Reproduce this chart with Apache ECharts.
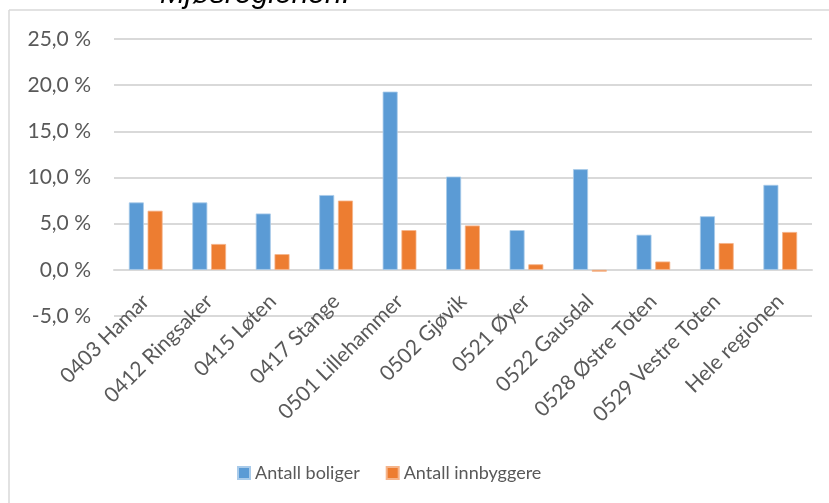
<!DOCTYPE html>
<html>
<head>
  <meta charset="utf-8">
  <script src="https://cdn.jsdelivr.net/npm/echarts@6/dist/echarts.min.js"></script>
</head>
<body style="margin:0">
<div id="main" style="width: 829px; height: 503px"></div>
<script>
  const kommuner = ['0403 Hamar', '0412 Ringsaker', '0415 Løten', '0417 Stange', '0501 Lillehammer',
    '0502 Gjøvik', '0521 Øyer', '0522 Gausdal', '0528 Østre Toten', '0529 Vestre Toten', 'Hele regionen'];
  const boliger = [7.3, 7.3, 6.1, 8.1, 19.3, 10.1, 4.3, 10.9, 3.8, 5.8, 9.2];
  const innbyggere = [6.4, 2.8, 1.7, 7.5, 4.3, 4.8, 0.6, -0.2, 0.9, 2.9, 4.1];

  const font = 'Lato, sans-serif';
  const myChart = echarts.init(document.getElementById('main'));
  myChart.setOption({
    animation: false,
    graphic: [
      {
        type: 'text', x: 160, y: -20,
        style: { text: 'Mjøsregionen.', font: 'italic 30px "Liberation Sans", Arial', fill: '#000' }
      },
      { type: 'line', shape: { x1: 9, y1: 10, x2: 829, y2: 10 }, style: { stroke: '#d9d9d9', lineWidth: 1.5 } },
      { type: 'line', shape: { x1: 9, y1: 10, x2: 9, y2: 503 }, style: { stroke: '#d9d9d9', lineWidth: 1.5 } }
    ],
    legend: {
      top: 459,
      left: 232,
      itemWidth: 12,
      itemHeight: 12,
      itemGap: 26,
      icon: 'rect',
      textStyle: { fontFamily: font, fontSize: 18, color: '#595959' },
      data: ['Antall boliger', 'Antall innbyggere']
    },
    grid: { left: 114, right: 17, top: 39, bottom: 187 },
    xAxis: {
      type: 'category',
      data: kommuner,
      axisLine: { onZero: true, lineStyle: { color: '#d9d9d9', width: 2 } },
      axisTick: { show: false },
      axisLabel: { rotate: 45, margin: -18, interval: 0, fontFamily: font, fontSize: 21, color: '#595959' }
    },
    yAxis: {
      type: 'value',
      min: -5,
      max: 25,
      interval: 5,
      axisLine: { show: false },
      axisTick: { show: false },
      splitLine: { lineStyle: { color: '#d9d9d9', width: 2 } },
      axisLabel: {
        margin: 23,
        fontFamily: font, fontSize: 21, color: '#595959',
        formatter: v => v.toFixed(1).replace('.', ',') + ' %'
      }
    },
    series: [
      {
        name: 'Antall boliger', type: 'bar', data: boliger, barWidth: 15, barGap: '25%',
        itemStyle: { color: '#5b9bd5', borderColor: '#a9cbea', borderWidth: 0.8 }
      },
      {
        name: 'Antall innbyggere', type: 'bar', data: innbyggere, barWidth: 15,
        itemStyle: { color: '#ed7d31', borderColor: '#f5b48a', borderWidth: 0.8 }
      }
    ]
  });
</script>
</body>
</html>
